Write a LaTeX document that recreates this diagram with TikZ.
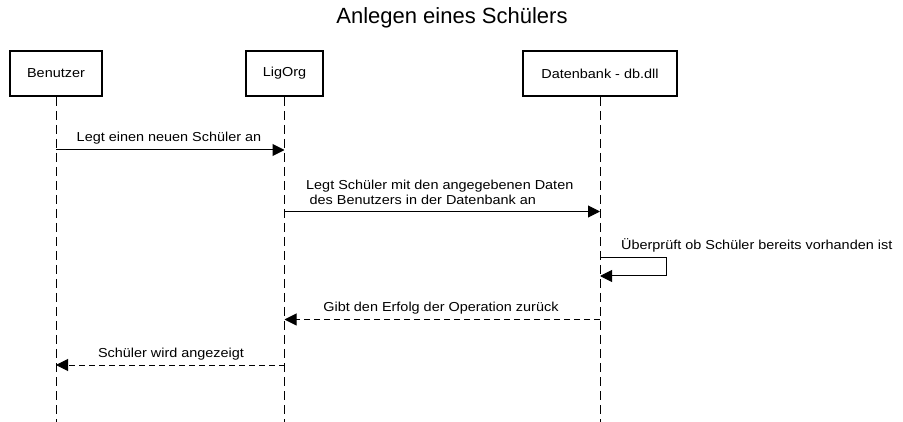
\documentclass[tikz,border=0pt]{standalone}
\usepackage{fontspec}
\setmainfont{Liberation Sans}
\newfontfamily\lblfont[FakeStretch=1.11]{Liberation Sans}
\usetikzlibrary{arrows.meta}
\begin{document}
\begin{tikzpicture}[x=1pt,y=-1pt,
  actor/.style={draw, line width=2pt, minimum height=45pt, inner sep=0pt,
    font=\lblfont\fontsize{13}{15}\selectfont},
  lifeline/.style={line width=1pt, dash pattern=on 9pt off 5pt},
  msg/.style={line width=1pt, -{Triangle[length=12pt,width=12pt]}},
  reply/.style={msg, dash pattern=on 6pt off 4pt},
  lbl/.style={inner sep=0pt, font=\lblfont\fontsize{13}{15}\selectfont},
  titlestyle/.style={inner sep=0pt, font=\fontsize{22}{25}\selectfont}]
\useasboundingbox (0,0) rectangle (903,422);
\node[titlestyle] (title) at (452,18) {Anlegen eines Schülers};
\node[actor, minimum width=92pt] (ben) at (56,73.5) {Benutzer};
\node[actor, minimum width=77pt] (lig) at (284.5,73.5) {LigOrg};
\node[actor, minimum width=154pt] (db) at (600,73.5) {Datenbank - db.dll};
\coordinate (benEnd) at (ben.south |- 0,422);
\coordinate (ligEnd) at (lig.south |- 0,422);
\coordinate (dbEnd) at (db.south |- 0,422);
\draw[lifeline] (ben.south) -- (benEnd);
\draw[lifeline] (lig.south) -- (ligEnd);
\draw[lifeline] (db.south) -- (dbEnd);
% message 1
\coordinate (m1a) at (ben.south |- 0,150);
\coordinate (m1b) at (lig.south |- 0,150);
\draw[msg] (m1a) -- (m1b);
\node[lbl] (l1) at (169,138) {Legt einen neuen Schüler an};
% message 2
\coordinate (m2a) at (lig.south |- 0,211.5);
\coordinate (m2b) at (db.south |- 0,211.5);
\draw[msg] (m2a) -- (m2b);
\node[lbl, anchor=west, align=left] (l2) at (306,192)
  {Legt Schüler mit den angegebenen Daten\\\hspace*{3.5pt}des Benutzers in der Datenbank an};
% self message
\coordinate (s1) at (db.south |- 0,258);
\coordinate (s2) at (666,258);
\coordinate (s3) at (666,276);
\coordinate (s4) at (db.south |- 0,276);
\draw[msg] (s1) -- (s2) -- (s3) -- (s4);
\node[lbl, anchor=west] (l3) at (621,245) {Überprüft ob Schüler bereits vorhanden ist};
% message 4
\coordinate (m4a) at (db.south |- 0,319.5);
\coordinate (m4b) at (lig.south |- 0,319.5);
\draw[reply] (m4a) -- (m4b);
\node[lbl] (l4) at (441,308) {Gibt den Erfolg der Operation zurück};
% message 5
\coordinate (m5a) at (lig.south |- 0,365);
\coordinate (m5b) at (ben.south |- 0,365);
\draw[reply] (m5a) -- (m5b);
\node[lbl] (l5) at (171,354) {Schüler wird angezeigt};
\end{tikzpicture}
\end{document}
